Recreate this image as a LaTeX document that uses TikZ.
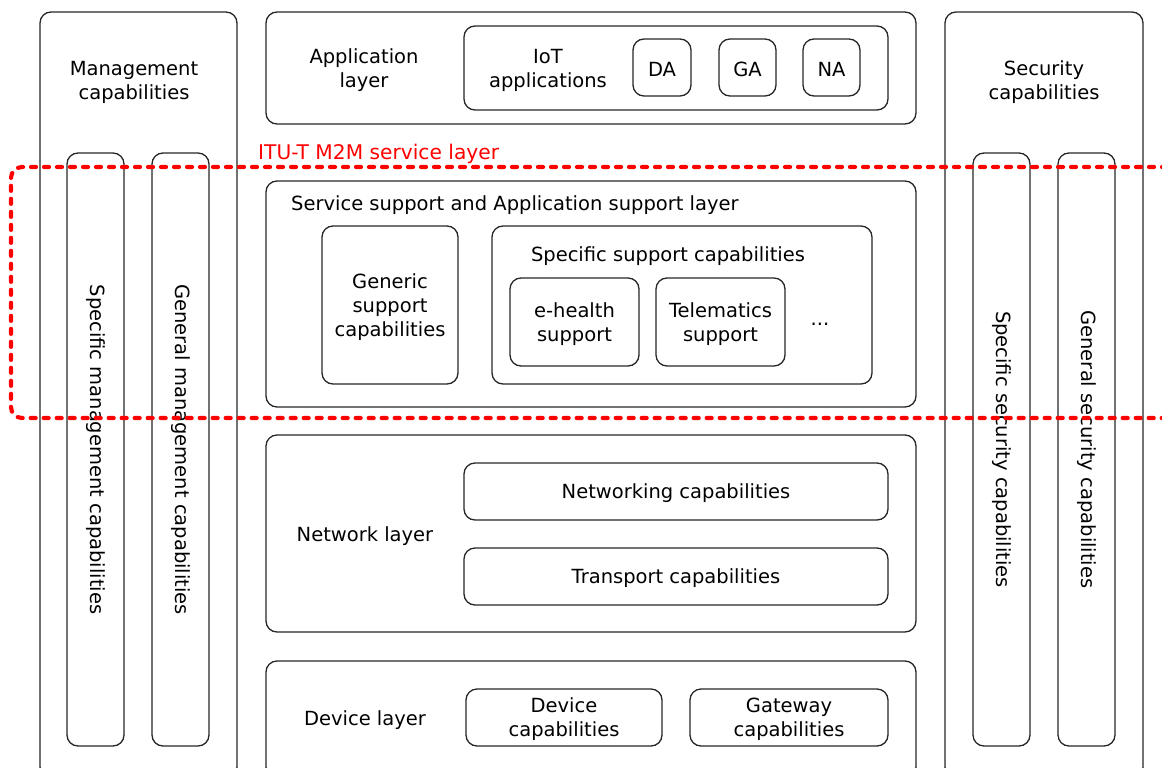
\documentclass[tikz,border=0pt]{standalone}
\usepackage{fontspec}
\setmainfont{DejaVu Sans}
\begin{document}
\begin{tikzpicture}[x=1pt,y=-1pt,
  box/.style={draw=black!85, line width=1.3pt, rounded corners=11pt, inner sep=0pt, align=center},
  txt/.style={inner sep=0pt, align=center, yshift=-2pt},
  vtxt/.style={inner sep=0pt, rotate=-90},
  itu/.style={draw=red, line width=4.2pt, dash pattern=on 5pt off 8pt, line cap=round, rounded corners=11pt}]
\useasboundingbox (0,0) rectangle (1162,768);
\clip (0,0) rectangle (1162,768);
\fontsize{19.5}{24}\selectfont
% side columns
\node[box, minimum width=197pt, minimum height=766pt] (mgmt) at (138.5,395) {};
\node[txt] (mgmtt) at (134,80) {Management\\capabilities};
\node[box, minimum width=57pt, minimum height=593pt] (specmgmt) at (95.5,449.5) {};
\node[vtxt] (specmgmtt) at (95.5,449.5) {Specific management capabilities};
\node[box, minimum width=57pt, minimum height=593pt] (genmgmt) at (180.5,449.5) {};
\node[vtxt] (genmgmtt) at (180.5,449.5) {General management capabilities};
\node[box, minimum width=198pt, minimum height=766pt] (sec) at (1044,395) {};
\node[txt] (sect) at (1044,80) {Security\\capabilities};
\node[box, minimum width=57pt, minimum height=593pt] (specsec) at (1001.5,449.5) {};
\node[vtxt] (specsect) at (1001.5,449.5) {Specific security capabilities};
\node[box, minimum width=57pt, minimum height=593pt] (gensec) at (1086.5,449.5) {};
\node[vtxt] (gensect) at (1086.5,449.5) {General security capabilities};
% application layer
\node[box, minimum width=650pt, minimum height=112pt] (app) at (591,68) {};
\node[txt] (appt) at (364,68) {Application\\layer};
\node[box, minimum width=424pt, minimum height=84pt] (iot) at (676,68) {};
\node[txt] (iott) at (548,68) {IoT\\applications};
\node[box, minimum width=58pt, minimum height=57pt] (da) at (662,67.5) {};
\node[txt] (dat) at (da.center) {DA};
\node[box, minimum width=57pt, minimum height=57pt] (ga) at (747.5,67.5) {};
\node[txt] (gat) at (ga.center) {GA};
\node[box, minimum width=57pt, minimum height=57pt] (na) at (831.5,67.5) {};
\node[txt] (nat) at (na.center) {NA};
% service support layer
\node[box, minimum width=650pt, minimum height=226pt] (svc) at (591,294) {};
\node[txt, anchor=west] (svct) at (291,203) {Service support and Application support layer};
\node[box, minimum width=136pt, minimum height=158pt] (generic) at (390,305) {};
\node[txt] (generict) at (generic.center) {Generic\\support\\capabilities};
\node[box, minimum width=380pt, minimum height=158pt] (specific) at (682,305) {};
\node[txt] (specifict) at (668,254) {Specific support capabilities};
\node[box, minimum width=129pt, minimum height=88pt] (ehealth) at (574.5,322) {};
\node[txt] (ehealtht) at (ehealth.center) {e-health\\support};
\node[box, minimum width=129pt, minimum height=88pt] (telem) at (720.5,322) {};
\node[txt] (telemt) at (telem.center) {Telematics\\support};
\node[txt] (dots) at (820,322) {...};
% network layer
\node[box, minimum width=650pt, minimum height=197pt] (net) at (591,533.5) {};
\node[txt] (nett) at (365,534) {Network layer};
\node[box, minimum width=424pt, minimum height=57pt] (networking) at (676,491.5) {};
\node[txt] (networkingt) at (networking.center) {Networking capabilities};
\node[box, minimum width=424pt, minimum height=57pt] (transport) at (676,576.5) {};
\node[txt] (transportt) at (transport.center) {Transport capabilities};
% device layer
\node[box, minimum width=650pt, minimum height=117pt] (dev) at (591,719.5) {};
\node[txt] (devt) at (365,718) {Device layer};
\node[box, minimum width=196pt, minimum height=57pt] (devcap) at (564,717.5) {};
\node[txt] (devcapt) at (devcap.center) {Device\\capabilities};
\node[box, minimum width=198pt, minimum height=57pt] (gwcap) at (789,717.5) {};
\node[txt] (gwcapt) at (gwcap.center) {Gateway\\capabilities};
% ITU-T M2M service layer
\node[txt, text=red, anchor=west, font=\fontsize{20.2}{24}\selectfont] (itut) at (258,152) {ITU-T M2M service layer};
\draw[itu] (1180,167) -- (11,167) -- (11,418) -- (1180,418);
\end{tikzpicture}
\end{document}
